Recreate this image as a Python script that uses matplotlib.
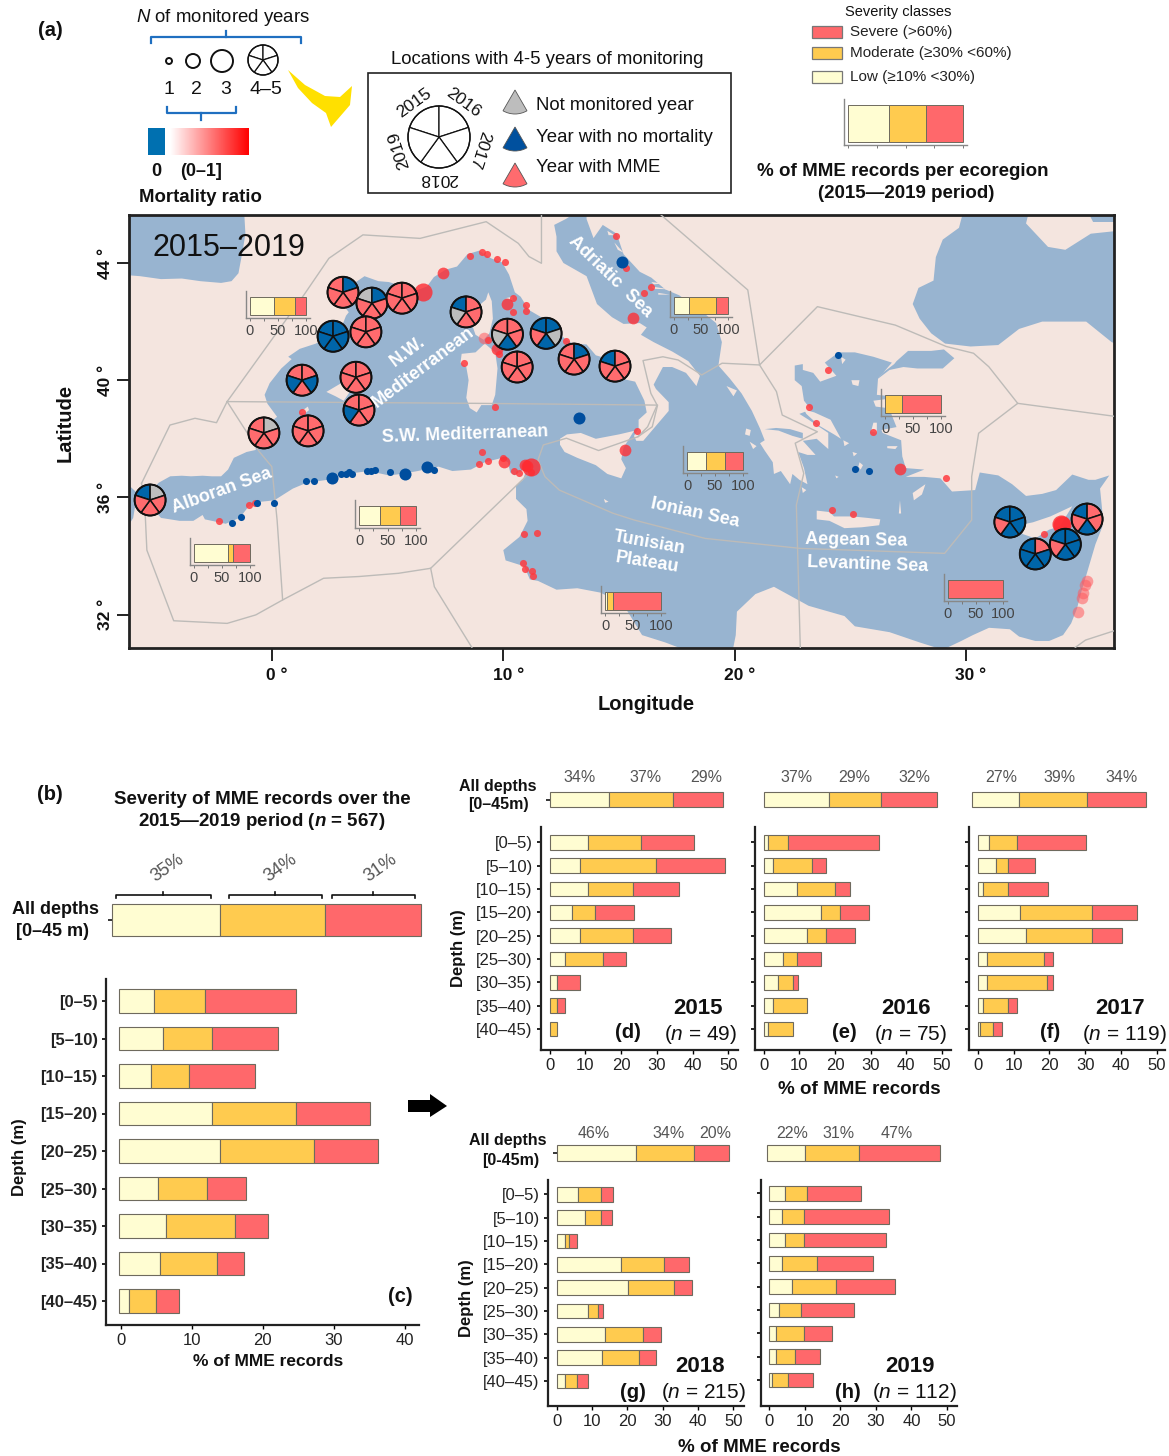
import numpy as np
import matplotlib
matplotlib.use('Agg')
import matplotlib.pyplot as plt
from matplotlib.patches import Polygon, Wedge, Circle, Rectangle
from matplotlib.colors import LinearSegmentedColormap

plt.rcParams['font.family'] = ['Liberation Sans', 'DejaVu Sans']
plt.rcParams['mathtext.fontset'] = 'custom'
plt.rcParams['mathtext.rm'] = 'Liberation Sans'
plt.rcParams['mathtext.it'] = 'Liberation Sans:italic'
plt.rcParams['mathtext.bf'] = 'Liberation Sans:bold'
plt.rcParams['mathtext.bfit'] = 'Liberation Sans:italic:bold'

W, H = 1169, 1456
LOW, MOD, SEV = '#FFFDD2', '#FFCB4F', '#FF686B'
SEA, LAND = '#98B4D0', '#F4E5DF'
EDGE = '#6E6A5E'

# ---- depth data
depths = ['[0–5)', '[5–10)', '[10–15)', '[15–20)', '[20–25)', '[25–30)', '[30–35)', '[35–40)', '[40–45)']

low_all = [4.7, 5.9, 4.3, 12.8, 14.0, 5.2, 6.4, 5.5, 1.1]
mod_all = [7.2, 6.9, 5.3, 11.9, 13.2, 7.0, 9.7, 8.0, 3.9]
sev_all = [12.8, 9.4, 9.3, 10.4, 9.0, 5.5, 4.6, 3.8, 3.2]

low_2015 = [10.7, 8.5, 10.7, 6.4, 8.5, 4.3, 2.2, 0, 0]
mod_2015 = [14.8, 21.3, 12.6, 6.4, 14.8, 10.6, 0, 2.2, 2.2]
sev_2015 = [15.0, 19.2, 12.8, 10.7, 10.8, 6.5, 6.4, 2.2, 0]

low_2016 = [1.3, 2.7, 9.4, 16.1, 12.1, 5.4, 4.0, 2.7, 1.3]
mod_2016 = [5.4, 10.7, 10.7, 5.4, 5.4, 4.0, 4.1, 9.4, 6.8]
sev_2016 = [25.6, 4.1, 4.1, 8.1, 8.1, 6.7, 1.4, 0, 0]

low_2017 = [3.2, 5.0, 1.5, 11.9, 13.4, 2.6, 2.6, 1.5, 0.7]
mod_2017 = [7.6, 3.4, 6.9, 20.1, 18.6, 15.8, 16.7, 6.9, 3.4]
sev_2017 = [19.4, 7.6, 11.1, 12.5, 8.2, 2.6, 1.7, 2.6, 2.6]

low_2018 = [6.1, 7.9, 2.4, 18.3, 20.1, 8.9, 13.6, 12.7, 2.4]
mod_2018 = [6.5, 4.7, 1.0, 12.1, 13.1, 2.9, 10.7, 10.7, 3.3]
sev_2018 = [3.2, 3.0, 2.3, 7.1, 5.1, 1.3, 5.1, 4.6, 3.3]

low_2019 = [4.5, 3.7, 4.5, 3.7, 6.3, 2.7, 1.8, 1.8, 0.9]
mod_2019 = [6.2, 6.1, 5.3, 9.6, 12.4, 6.3, 8.0, 5.3, 4.4]
sev_2019 = [15.0, 23.9, 22.9, 16.0, 16.8, 14.9, 7.9, 7.1, 7.1]

# all depths shares: low, moderate, severe
share_total = [35, 34, 31]
share_2015 = [34.6, 36.7, 28.7]
share_2016 = [38, 30, 32]
share_2017 = [27, 39, 34]
share_2018 = [46, 34, 20]
share_2019 = [22, 31, 47]

# severity shares per ecoregion
eco_nw = [43, 37, 20]
eco_alboran = [61, 8, 31]
eco_sw = [36, 36, 28]
eco_tunisian = [4, 10, 86]
eco_adriatic = [27, 51, 22]
eco_ionian = [34, 33, 33]
eco_aegean = [0, 31, 69]
eco_levantine = [0, 0, 100]
eco_legend = [36, 32, 32]

# ---- pies, one letter per year 2015..2019 (M = MME, B = no mortality, G = not monitored)
pie_lon = [3.07, 4.32, 5.62, 2.64, 4.06, 8.39, 10.18, 11.85, 10.6, 13.06, 14.83, 1.3, 3.63, 3.76, -0.35, 1.56, -5.27,
           31.9, 33.0, 34.3, 35.24]
pie_lat = [43.0, 42.63, 42.8, 41.5, 41.65, 42.33, 41.57, 41.6, 40.45, 40.72, 40.48, 40.0, 40.1, 38.98, 38.2, 38.27, 35.91,
           35.16, 34.07, 34.4, 35.26]
pie_status = ['MBMMM', 'GBMMM', 'MMMMM', 'BBBBB', 'MMMMM', 'BMMMG', 'MMMBG', 'BBGBM', 'MMMMM', 'MBMMM', 'BMMMM',
              'MMBMB', 'MMMMM', 'MMMMB', 'MGMMM', 'MMMMM', 'BGMMM', 'BBBBM', 'BMBBB', 'BBBBM', 'BMMBM']

# ---- mortality points
red_lon = [8.56, 9.1, 9.3, 9.73, 10.07, 10.41, 10.41, 11.0, 11.0, 9.33, 9.8, 8.3, 9.64, 12.7, 1.3, 15.76, 14.89, 15.31,
           16.1, 16.39, 9.06, 8.95, 9.33, 9.98, 10.45, 10.7, 11.2, 10.9, 11.45, 10.85, 10.92, 11.22, 11.3, -0.98, -0.73,
           -2.28, 24.03, 23.22, 23.5, 26.0, 29.15, 24.19, 25.1, 33.37]
red_lat = [44.24, 44.39, 44.31, 44.14, 44.05, 42.79, 42.33, 42.57, 42.36, 41.37, 40.9, 40.6, 39.1, 41.35, 38.93, 38.27,
           44.92, 43.84, 42.97, 43.17, 37.55, 37.13, 37.25, 37.33, 36.89, 36.82, 36.86, 34.74, 34.8, 33.75, 33.56, 33.49,
           33.32, 35.73, 35.8, 35.18, 40.34, 39.1, 38.53, 38.24, 36.65, 35.56, 35.42, 34.74]
red_big_lon = [7.4, 10.18, 9.72, 15.28, 15.59, 10.03, 10.92, 11.03, 27.16]
red_big_lat = [43.67, 42.59, 41.08, 37.62, 42.13, 37.21, 37.12, 37.07, 36.98]
red_huge_lon = [6.52, 11.19, 34.14, 34.1]
red_huge_lat = [43.01, 37.05, 35.06, 35.1]
pale_lon = [9.18, 35.25, 35.17, 35.07, 35.03, 34.85]
pale_lat = [41.45, 33.15, 33.0, 32.73, 32.56, 32.1]

blue_lon = [0.07, -0.64, -1.35, -1.74, 1.47, 1.81, 3.0, 3.19, 3.31, 3.47, 4.12, 4.28, 4.45, 5.1, 7.02, 24.46, 25.2, 25.81]
blue_lat = [35.82, 35.8, 35.33, 35.11, 36.56, 36.56, 36.81, 36.8, 36.87, 36.81, 36.91, 36.91, 36.94, 36.85, 36.94, 40.86,
            36.96, 36.89]
blue_big_lon = [15.15, 13.27, 2.59, 5.75, 6.68]
blue_big_lat = [44.05, 38.7, 36.65, 36.81, 37.04]

# ---- base map, lon / lat
mainland = [
    (-6.3, 36.5), (-5.9, 36.2), (-5.6, 36.0), (-5.35, 36.15), (-4.9, 36.5), (-4.4, 36.72), (-3.9, 36.74), (-3.5, 36.72),
    (-3.0, 36.74), (-2.6, 36.72), (-2.2, 36.72), (-1.9, 36.95), (-1.65, 37.35), (-1.1, 37.55), (-0.7, 37.62), (-0.75, 37.9),
    (-0.5, 38.2), (-0.1, 38.55), (0.22, 38.75), (-0.2, 39.2), (-0.32, 39.5), (-0.1, 39.9), (0.4, 40.4), (0.85, 40.72),
    (0.7, 40.8), (1.2, 41.07), (1.9, 41.25), (2.3, 41.45), (3.0, 41.8), (3.2, 42.2), (3.32, 42.32), (3.05, 42.6),
    (3.05, 43.05), (3.5, 43.28), (4.0, 43.55), (4.6, 43.38), (5.05, 43.35), (5.35, 43.28), (5.7, 43.15), (6.2, 43.05),
    (6.7, 43.2), (7.0, 43.52), (7.5, 43.77), (8.0, 43.88), (8.45, 44.3), (8.95, 44.42), (9.5, 44.15), (9.95, 44.02),
    (10.25, 43.6), (10.5, 43.0), (10.75, 42.85), (11.1, 42.4), (11.75, 42.1), (12.25, 41.75), (12.65, 41.42), (13.0, 41.25),
    (13.6, 41.22), (14.0, 40.85), (14.3, 40.78), (14.35, 40.6), (14.75, 40.65), (15.0, 40.3), (15.3, 40.02), (15.7, 39.95),
    (16.1, 39.3), (16.2, 38.9), (15.85, 38.65), (15.85, 38.35), (15.65, 38.1), (15.75, 37.93), (16.05, 37.93), (16.5, 38.35),
    (17.15, 38.95), (17.15, 39.25), (16.6, 39.7), (16.5, 39.85), (16.9, 40.45), (17.3, 40.45), (17.9, 40.25), (18.35, 39.8),
    (18.5, 40.15), (18.0, 40.65), (17.3, 40.98), (16.5, 41.3), (15.95, 41.55), (16.2, 41.8), (15.9, 41.95), (15.2, 41.92),
    (14.7, 42.15), (14.05, 42.6), (13.6, 43.55), (12.6, 44.0), (12.3, 44.4), (12.3, 44.9), (12.2, 45.3), (12.7, 45.5),
    (13.1, 45.7), (13.6, 45.75), (13.6, 45.5), (13.9, 44.85), (14.3, 45.3), (14.9, 45.0), (15.2, 44.3), (15.9, 43.7),
    (16.4, 43.5), (17.0, 43.1), (17.6, 42.9), (18.5, 42.4), (19.2, 41.95), (19.45, 41.3), (19.3, 40.5), (19.8, 40.05),
    (20.3, 39.55), (20.75, 38.95), (21.1, 38.35), (21.3, 37.95), (21.1, 37.85), (21.3, 37.6), (21.65, 37.2), (21.7, 36.8),
    (22.0, 36.9), (22.4, 36.45), (22.5, 36.8), (22.8, 36.6), (23.15, 36.45), (23.0, 37.0), (22.75, 37.55), (23.15, 37.45),
    (23.5, 37.45), (23.1, 37.8), (22.95, 37.93), (23.55, 38.0), (24.05, 37.65), (24.05, 38.2), (23.2, 38.65), (22.8, 38.85),
    (23.3, 39.0), (23.0, 39.3), (22.9, 39.8), (22.6, 40.0), (22.6, 40.5), (22.95, 40.55), (22.95, 40.35), (23.4, 40.25),
    (23.7, 39.95), (24.4, 40.15), (23.9, 40.6), (24.5, 40.95), (25.2, 40.95), (26.0, 40.8), (26.8, 40.6), (26.2, 40.05),
    (26.15, 39.5), (26.8, 39.45), (26.7, 39.0), (27.0, 38.4), (26.35, 38.3), (26.4, 38.2), (27.2, 37.95), (27.25, 37.4),
    (27.4, 37.0), (28.2, 36.95), (27.4, 36.7), (28.2, 36.7), (28.9, 36.65), (29.4, 36.2), (30.4, 36.25), (30.6, 36.85),
    (31.4, 36.75), (32.0, 36.45), (32.6, 36.05), (33.3, 36.12), (33.9, 36.25), (34.6, 36.78), (35.3, 36.6), (35.6, 36.6),
    (36.2, 36.75), (35.8, 36.3), (35.9, 35.5), (35.9, 35.0), (35.6, 34.4), (35.0, 32.8), (34.8, 32.2), (34.55, 31.7),
    (34.2, 31.3), (33.6, 31.1), (33.0, 31.1), (32.3, 31.25), (31.9, 31.5), (31.0, 31.55), (30.3, 31.3), (29.8, 31.1),
    (29.0, 30.8), (28.0, 31.05), (26.7, 31.4), (25.2, 31.6), (24.75, 31.95), (23.2, 32.3), (21.7, 32.95), (20.9, 32.7),
    (20.1, 32.1), (20.05, 31.3), (19.9, 30.7), (18.0, 30.75), (17.0, 31.05), (16.0, 31.3), (15.3, 32.2), (15.1, 32.4),
    (14.2, 32.75), (13.2, 32.9), (12.3, 32.85), (11.5, 33.15), (11.15, 33.2), (10.9, 33.65), (10.1, 33.85), (10.0, 34.2),
    (10.7, 34.65), (11.05, 35.2), (11.0, 35.6), (10.55, 35.95), (10.55, 36.4), (10.85, 36.6), (11.05, 37.05), (10.5, 36.75),
    (10.3, 36.85), (10.2, 37.2), (9.85, 37.33), (9.2, 37.2), (8.6, 36.95), (7.8, 36.9), (7.2, 37.05), (6.3, 36.9), (5.6, 36.8),
    (5.05, 36.75), (4.2, 36.9), (3.2, 36.8), (2.9, 36.8), (2.4, 36.6), (1.5, 36.5), (0.9, 36.3), (0.1, 35.9), (-0.5, 35.85),
    (-1.0, 35.7), (-1.4, 35.3), (-2.0, 35.1), (-2.9, 35.25), (-3.0, 35.4), (-3.4, 35.2), (-4.0, 35.2), (-4.8, 35.3),
    (-5.3, 35.75), (-5.4, 35.9), (-5.9, 35.8), (-6.0, 35.3), (-6.4, 34.8), (-6.5, 30), (38, 30), (38, 47), (-6.5, 47),
]
biscay = [(-6.5, 43.6), (-5.7, 43.55), (-4.8, 43.45), (-3.9, 43.47), (-3.1, 43.38), (-2.2, 43.32), (-1.75, 43.38),
          (-1.45, 43.65), (-1.25, 44.5), (-1.15, 45.0), (-1.2, 45.7), (-1.2, 46.5), (-6.5, 46.5)]
black_sea = [(29.9, 45.8), (29.7, 45.2), (29.0, 44.8), (28.7, 44.2), (28.6, 43.4), (27.95, 43.15), (27.7, 42.6), (28.0, 42.1),
             (28.5, 41.6), (29.1, 41.25), (30.2, 41.15), (31.4, 41.2), (32.3, 41.75), (33.3, 42.0), (34.9, 42.0), (35.2, 42.0),
             (36.3, 41.3), (37.0, 41.1), (38, 41.05), (38, 46.5), (29.9, 46.5)]
marmara = [(27.0, 40.65), (27.5, 41.0), (28.5, 41.0), (29.05, 41.05), (29.5, 40.75), (29.0, 40.4), (27.9, 40.4), (27.3, 40.45),
           (26.7, 40.35), (26.2, 40.05), (26.4, 40.25), (26.9, 40.55)]
corinth = [(21.3, 38.33), (21.8, 38.37), (22.4, 38.33), (22.95, 38.2), (22.95, 38.0), (22.5, 38.1), (21.9, 38.28)]
crimea = [(32.6, 45.35), (33.55, 44.55), (34.3, 44.45), (35.4, 45.0), (36.6, 45.1), (38, 44.9), (38, 45.2), (36.6, 45.4),
          (35.5, 45.4), (35.1, 46.0), (33.5, 46.2), (32.8, 46.0)]
islands = [
    [(9.35, 43.0), (9.5, 42.7), (9.55, 42.1), (9.4, 41.6), (9.15, 41.38), (8.8, 41.55), (8.6, 42.0), (8.65, 42.35), (9.25, 42.75)],
    [(8.2, 40.9), (8.8, 40.95), (9.2, 41.25), (9.65, 40.95), (9.75, 40.4), (9.65, 39.5), (9.5, 39.15), (9.05, 39.15), (8.85, 38.9),
     (8.55, 39.05), (8.4, 39.4), (8.5, 40.0), (8.4, 40.45), (8.15, 40.6)],
    [(12.45, 38.0), (12.75, 38.15), (13.35, 38.2), (14.0, 38.0), (15.0, 38.15), (15.65, 38.27), (15.2, 37.7), (15.1, 37.3),
     (15.3, 37.0), (15.1, 36.65), (14.5, 36.8), (14.0, 37.1), (13.2, 37.35), (12.65, 37.55), (12.45, 37.8)],
    [(2.35, 39.6), (3.1, 39.95), (3.45, 39.7), (3.1, 39.3), (2.75, 39.45)],
    [(3.8, 40.05), (4.3, 40.0), (4.25, 39.85), (3.85, 39.95)],
    [(1.2, 38.9), (1.55, 39.1), (1.6, 38.98), (1.4, 38.85)],
    [(10.1, 42.8), (10.4, 42.85), (10.4, 42.72)],
    [(23.55, 35.55), (24.1, 35.5), (24.3, 35.35), (25.1, 35.35), (25.75, 35.3), (26.3, 35.25), (26.25, 35.05), (25.5, 34.98),
     (24.75, 34.95), (24.1, 35.2), (23.55, 35.25)],
    [(32.3, 35.05), (32.9, 35.15), (33.65, 35.35), (34.6, 35.7), (34.05, 35.0), (33.6, 34.9), (33.0, 34.6), (32.45, 34.75)],
    [(27.7, 36.15), (28.25, 36.45), (28.1, 36.1), (27.75, 35.9)],
    [(27.15, 35.9), (27.2, 35.45), (27.1, 35.45)],
    [(26.0, 39.3), (26.5, 39.35), (26.6, 39.05), (26.1, 39.1)],
    [(26.0, 38.55), (26.15, 38.55), (26.15, 38.2), (25.9, 38.25)],
    [(26.6, 37.75), (27.05, 37.75), (26.95, 37.65), (26.6, 37.68)],
    [(24.6, 40.8), (24.8, 40.7), (24.65, 40.55)],
    [(25.05, 40.0), (25.4, 40.0), (25.35, 39.8), (25.1, 39.85)],
    [(23.0, 39.0), (23.45, 38.9), (24.15, 38.65), (24.6, 38.0), (24.3, 38.15), (23.65, 38.45), (23.1, 38.85)],
    [(25.4, 37.2), (25.55, 37.1), (25.45, 36.95), (25.35, 37.05)],
    [(24.7, 37.95), (24.95, 37.85), (24.75, 37.75)],
    [(24.35, 36.75), (24.5, 36.7), (24.4, 36.65)],
    [(25.1, 37.55), (25.3, 37.5), (25.15, 37.4)],
    [(20.5, 38.35), (20.7, 38.3), (20.65, 38.1), (20.45, 38.15)],
    [(20.65, 37.9), (20.95, 37.75), (20.8, 37.65)],
    [(19.65, 39.8), (20.1, 39.65), (19.95, 39.45)],
    [(14.5, 45.1), (14.8, 44.95), (14.55, 44.95)],
    [(14.8, 44.7), (15.2, 44.35), (14.95, 44.45)],
    [(15.0, 44.1), (15.3, 43.9), (15.1, 43.95)],
    [(16.4, 43.35), (16.9, 43.3), (16.5, 43.27)],
    [(16.4, 43.2), (17.2, 43.1), (16.5, 43.12)],
    [(16.7, 42.98), (17.2, 42.92), (16.7, 42.92)],
    [(22.9, 36.35), (23.1, 36.25), (22.95, 36.15)],
    [(14.35, 35.95), (14.55, 35.85), (14.4, 35.82)],
]
eco_lines = [
    [(-5.64, 36.48), (-4.41, 38.47), (-3.33, 38.7), (-2.4, 38.55), (-1.94, 39.27), (1.38, 42.91), (2.46, 44.16), (3.93, 44.96),
     (6.4, 44.84), (9.26, 45.41), (10.65, 44.67), (11.11, 44.22), (11.65, 43.99), (11.65, 45.64)],
    [(-5.64, 36.48), (-5.49, 35.57), (-5.41, 34.2), (-4.25, 31.79), (-1.94, 31.7), (-0.7, 31.99), (0.46, 32.5), (0.22, 35.23),
     (-0.01, 37.05), (-0.55, 37.56), (-1.94, 39.27)],
    [(-1.94, 39.27), (8.87, 39.21), (16.67, 39.15), (16.44, 38.41), (15.82, 38.07), (14.12, 37.6), (12.73, 38.02), (11.73, 37.79),
     (11.5, 37.28), (11.8, 36.71), (12.42, 36.25), (14.74, 35.46), (15.65, 35.23), (18.73, 34.6), (22.84, 34.26), (29.08, 34.09),
     (30.25, 35.23), (30.25, 36.71), (30.55, 38.19), (32.24, 39.21), (36.5, 38.76)],
    [(32.24, 39.21), (30.99, 40.46), (30.33, 40.92), (29.15, 41.15), (26.95, 41.88), (23.58, 42.51), (21.08, 40.52), (19.46, 40.58),
     (18.58, 40.18), (17.56, 40.69), (16.9, 40.8), (16.04, 40.67), (16.38, 39.55), (16.65, 39.15), (16.24, 38.41), (15.82, 38.07)],
    [(16.82, 45.64), (20.57, 43.08), (21.08, 40.52), (21.81, 39.61), (22.06, 38.81), (23.58, 38.24), (22.62, 37.85), (22.99, 36.82),
     (22.67, 35.74), (22.84, 30.88)],
    [(11.11, 36.82), (6.86, 33.58), (5.47, 33.41), (3.77, 33.3), (2.23, 33.24), (0.46, 32.5)],
    [(6.86, 33.58), (7.02, 32.95), (8.64, 30.88)],
    [(34.73, 30.88), (35.17, 31.13), (36.5, 31.47)],
]

fig = plt.figure(figsize=(W / 100, H / 100), dpi=100)


def px_axes(x0, y0, x1, y1):
    return fig.add_axes([x0 / W, 1 - y1 / H, (x1 - x0) / W, (y1 - y0) / H])


# ---- map
lon0, lat0 = 272.0, 263.0
mx = px_axes(129, 215, 1114, 648)
mx.set_xlim((129 - lon0) / 23.13, (1114 - lon0) / 23.13)
mx.set_ylim(44 - (648 - lat0) / 29.3, 44 - (215 - lat0) / 29.3)
mx.set_facecolor(SEA)
mx.add_patch(Polygon(mainland, closed=True, fc=LAND, ec='none', zorder=1))
for poly in [biscay, black_sea, marmara, corinth]:
    mx.add_patch(Polygon(poly, closed=True, fc=SEA, ec='none', zorder=2))
mx.add_patch(Polygon(crimea, closed=True, fc=LAND, ec='none', zorder=2))
for poly in islands:
    mx.add_patch(Polygon(poly, closed=True, fc=LAND, ec='none', zorder=2))
for line in eco_lines:
    mx.plot([p[0] for p in line], [p[1] for p in line], color='#BDBBB8', lw=1.0, zorder=3)

mx.scatter(pale_lon, pale_lat, s=70, color='#FF5A5F', alpha=0.55, lw=0, zorder=4)
mx.scatter(red_lon, red_lat, s=26, color='#FF3B3F', alpha=0.85, lw=0, zorder=4)
mx.scatter(red_big_lon, red_big_lat, s=72, color='#FF2F35', alpha=0.8, lw=0, zorder=4)
mx.scatter(red_huge_lon, red_huge_lat, s=170, color='#FF2A30', alpha=0.8, lw=0, zorder=4)
mx.scatter(blue_lon, blue_lat, s=26, color='#004E9E', lw=0, zorder=4)
mx.scatter(blue_big_lon, blue_big_lat, s=75, color='#004E9E', lw=0, zorder=4)

mx.set_xticks([0, 10, 20, 30])
mx.set_yticks([32, 36, 40, 44])
mx.set_xticklabels([])
mx.set_yticklabels([])
mx.tick_params(length=9, width=1.4, color='#222222')
for s in mx.spines.values():
    s.set_linewidth(2)
    s.set_color('#222222')


# ---- small severity bars on the map
def eco_bar(x0, y0, x1, y1, shares, labels=True):
    sc = (x1 - x0) / 100.0
    ax = px_axes(x0 - 4, y0 - 6, x1 + 4, y1 + 3)
    ax.patch.set_alpha(0)
    ax.set_xlim(-4 / sc, 100 + 4 / sc)
    ax.set_ylim(-3 / (y1 - y0) - 0.5, 6 / (y1 - y0) + 0.5)
    left = 0
    for val, col in zip(shares, [LOW, MOD, SEV]):
        if val > 0:
            ax.barh(0, val, left=left, height=1, color=col, edgecolor=EDGE, lw=0.7)
        left += val
    ax.set_yticks([])
    ax.set_xticks([0, 25, 50, 75, 100])
    ax.set_xticklabels(['0', '', '50', '', '100'] if labels else [])
    ax.tick_params(axis='x', length=2.5, width=0.7, color='#777777', labelcolor='#444444', labelsize=10.5, pad=1.5)
    for k in ['top', 'right']:
        ax.spines[k].set_visible(False)
    for k in ['left', 'bottom']:
        ax.spines[k].set_color('#888888')
        ax.spines[k].set_linewidth(1.0)


eco_bar(250, 297, 306, 315, eco_nw)
eco_bar(194, 544, 250, 562, eco_alboran)
eco_bar(359, 506, 416, 525, eco_sw)
eco_bar(605, 592, 661, 610, eco_tunisian)
eco_bar(674, 297, 728, 314, eco_adriatic)
eco_bar(687, 452, 743, 470, eco_ionian)
eco_bar(885, 395, 941, 413, eco_aegean)
eco_bar(948, 580, 1003, 598, eco_levantine)
eco_bar(848, 105, 963, 142, eco_legend, labels=False)


# ---- depth panels
def depth_panel(left, right, top, bottom, x0, x_end, v_end, y_first, row, low, mod, sev, labels=False, start=0.0, bold=False):
    sc = (x_end - x0) / float(v_end)
    ax = px_axes(left, top, right, bottom)
    ax.patch.set_alpha(0)
    ax.set_xlim((left - x0) / sc, (right - x0) / sc)
    ax.set_ylim((bottom - y_first) / row, (top - y_first) / row)
    y = np.arange(len(depths))
    lo, mo, se = np.array(low), np.array(mod), np.array(sev)
    # the first segment starts a little left of the zero tick in the original
    ax.barh(y[lo > 0], lo[lo > 0] - start, left=start, height=0.62, color=LOW, edgecolor=EDGE, lw=0.8)
    ax.barh(y[mo > 0], mo[mo > 0], left=lo[mo > 0], height=0.62, color=MOD, edgecolor=EDGE, lw=0.8)
    ax.barh(y[se > 0], se[se > 0], left=(lo + mo)[se > 0], height=0.62, color=SEV, edgecolor=EDGE, lw=0.8)
    ax.set_yticks(y)
    ax.set_yticklabels(depths if labels else [], fontweight='bold' if bold else 'normal')
    ax.set_xticks(np.arange(0, v_end + 1, 10))
    ax.tick_params(axis='y', length=3, width=1.2, labelsize=12, pad=3, labelcolor='#222222')
    ax.tick_params(axis='x', length=3, width=1.0, labelsize=12, pad=3, labelcolor='#222222')
    for k in ['top', 'right']:
        ax.spines[k].set_visible(False)
    for k in ['left', 'bottom']:
        ax.spines[k].set_linewidth(1.6)
        ax.spines[k].set_color('#222222')
    return ax


def all_bar(x0, x1, y0, y1, shares, tick=False):
    ax = px_axes(x0, y0, x1, y1)
    ax.patch.set_alpha(0)
    ax.set_xlim(0, sum(shares))
    ax.set_ylim(-0.5, 0.5)
    left = 0
    for val, col in zip(shares, [LOW, MOD, SEV]):
        ax.barh(0, val, left=left, height=1, color=col, edgecolor=EDGE, lw=0.8, clip_on=False)
        left += val
    ax.set_xticks([])
    ax.set_yticks([0] if tick else [])
    ax.set_yticklabels([''] if tick else [])
    ax.tick_params(axis='y', length=3, width=1.1)
    for s in ax.spines.values():
        s.set_visible(False)


depth_panel(106, 419, 979, 1325, 120.7, 404.7, 40, 1001, 37.5, low_all, mod_all, sev_all, labels=True, start=-0.25, bold=True)
all_bar(112, 421, 904, 936, share_total, tick=True)

depth_panel(541, 738, 827, 1050, 549.5, 728.3, 50, 842.3, 23.33, low_2015, mod_2015, sev_2015, labels=True)
depth_panel(755, 951, 827, 1050, 763.8, 942, 50, 842.3, 23.33, low_2016, mod_2016, sev_2016)
depth_panel(969, 1165, 827, 1050, 978, 1156.5, 50, 842.3, 23.33, low_2017, mod_2017, sev_2017)
all_bar(549.5, 722.8, 792, 807, share_2015, tick=True)
all_bar(763.5, 937, 792, 807, share_2016)
all_bar(972, 1146, 792, 807, share_2017)

depth_panel(548, 744, 1180, 1406, 556.7, 733.3, 50, 1194.3, 23.33, low_2018, mod_2018, sev_2018, labels=True)
depth_panel(761, 957, 1180, 1406, 769.3, 947, 50, 1193.3, 23.33, low_2019, mod_2019, sev_2019)
all_bar(556.7, 728.7, 1145, 1161, share_2018, tick=True)
all_bar(767.3, 940, 1145, 1161, share_2019)

# ---- overlay in picture pixels, for legend parts, text and pies
ov = fig.add_axes([0, 0, 1, 1], zorder=20)
ov.set_xlim(0, W)
ov.set_ylim(H, 0)
ov.axis('off')
ov.patch.set_alpha(0)


def txt(x, y, s, size=12, weight='normal', color='#111111', rot=0, ha='center', va='center'):
    ov.text(x, y, s, fontsize=size, fontweight=weight, color=color, rotation=rot, ha=ha, va=va,
            rotation_mode='anchor')


status_col = {'M': '#FF6B6E', 'B': '#0065A9', 'G': '#BDBDBD', 'W': 'white'}


def pie(cx, cy, r, status, lw=1.1, outer=1.4):
    for i, st in enumerate(status):
        a = -162 + 72 * i
        ov.add_patch(Wedge((cx, cy), r, a, a + 72, fc=status_col[st], ec='#111111', lw=lw, zorder=3))
    ov.add_patch(Circle((cx, cy), r, fc='none', ec='#111111', lw=outer, zorder=3))


fig.canvas.draw()
to_disp = mx.transData
to_ov = ov.transData.inverted()
for lon, lat, st in zip(pie_lon, pie_lat, pie_status):
    px, py = to_ov.transform(to_disp.transform((lon, lat)))
    pie(px, py, 15.5, st)

# sea names
for x, y, s, rot in [(610, 277, 'Adriatic  Sea', -44), (408, 352, 'N.W.', 37), (423, 367, 'Mediterranean', 37),
                     (465, 435, 'S.W. Mediterranean', 2), (222, 491, 'Alboran Sea', 20), (695, 513, 'Ionian Sea', -12),
                     (649, 543, 'Tunisian', -10), (647, 563, 'Plateau', -9), (856, 540, 'Aegean Sea', -1),
                     (868, 565, 'Levantine Sea', -2)]:
    txt(x, y, s, size=13, weight='bold', color='white', rot=rot)

txt(229, 248, '2015–2019', size=22)

# map axis text
for lat, lab in zip([44, 40, 36, 32], ['44 °', '40 °', '36 °', '32 °']):
    px, py = to_ov.transform(to_disp.transform((0, lat)))
    txt(105, py, lab, size=12.5, weight='bold', rot=90)
for lon, lab in zip([0, 10, 20, 30], ['0 °', '10 °', '20 °', '30 °']):
    px, py = to_ov.transform(to_disp.transform((lon, 32)))
    txt(px + 5, 676, lab, size=12.5, weight='bold')
txt(65, 423, 'Latitude', size=14.5, weight='bold', rot=90)
txt(646, 704, 'Longitude', size=14.5, weight='bold')

# (a) legend, left part
txt(50, 30, '(a)', size=14.5, weight='bold')
txt(223, 18, r'$\mathit{N}$ of monitored years', size=13.4)
blue = '#1F6FC0'
ov.plot([151, 151, 301, 301], [43, 37, 37, 43], color=blue, lw=1.6)
ov.plot([226, 226], [31, 37], color=blue, lw=1.6)
for x, r in [(169, 3), (193, 7), (222, 11)]:
    ov.add_patch(Circle((x, 61), r, fc='white', ec='#111111', lw=1.4))
pie(263, 60, 15, 'WWWWW', lw=0.9, outer=1.0)
for x, s in [(169, '1'), (196, '2'), (226, '3'), (266, '4–5')]:
    txt(x, 90, s, size=14)
ov.plot([167, 167, 236, 236], [107, 113, 113, 107], color=blue, lw=1.6)
ov.plot([201, 201], [113, 120], color=blue, lw=1.6)
ov.add_patch(Rectangle((148, 128), 17, 27, fc='#0070B0', ec='none'))
white_red = LinearSegmentedColormap.from_list('wr', ['#FFFFFF', '#FF0000'])
ov.imshow(np.linspace(0, 1, 100).reshape(1, -1), extent=(170, 249, 155, 128), cmap=white_red, aspect='auto', zorder=2)
ov.set_xlim(0, W)
ov.set_ylim(H, 0)
txt(156, 171, '0', size=13, weight='bold')
txt(201, 171, '(0–1]', size=13, weight='bold')
txt(200, 197, 'Mortality ratio', size=13.4, weight='bold')

# yellow arrow
ov.add_patch(Polygon([(288, 70), (305, 85), (325, 96), (340, 97), (352, 86), (350, 105), (331, 127), (326, 113), (312, 103),
                      (298, 88)], closed=True, fc='#FFE000', ec='none'))

# locations box
txt(547, 59, 'Locations with 4-5 years of monitoring', size=13.4)
ov.add_patch(Rectangle((368, 73), 363, 120, fc='white', ec='#222222', lw=1.2))
pie(439, 137, 31, 'WWWWW', lw=0.9, outer=1.0)
for i, yr in enumerate(['2015', '2016', '2017', '2018', '2019']):
    th = np.deg2rad(-36 + 72 * i)
    txt(439 + 42 * np.sin(th), 137 - 42 * np.cos(th), yr, size=12.5, rot=-np.rad2deg(th))
for y, y_text, col, s in [(90, 106, '#BDBDBD', 'Not monitored year'), (127, 137, '#00509E', 'Year with no mortality'),
                          (163, 168, '#FF6B6E', 'Year with MME')]:
    ov.add_patch(Wedge((515, y), 24, 60, 120, fc=col, ec='#555555', lw=0.6, zorder=3))
    txt(536, y_text, s, size=13.4, ha='left')

# severity legend
txt(898, 12, 'Severity classes', size=10.5)
for y, col, s in [(26, SEV, 'Severe (>60%)'), (47, MOD, 'Moderate (≥30% <60%)'), (71, LOW, 'Low (≥10% <30%)')]:
    ov.add_patch(Rectangle((812, y), 30, 12, fc=col, ec='#777777', lw=0.9))
    txt(850, y + 6, s, size=11, ha='left', color='#222222')
txt(903, 171, '% of MME records per ecoregion', size=13.5, weight='bold')
txt(906, 194, '(2015—2019 period)', size=13.5, weight='bold')

# (b), (c)
txt(50, 794, '(b)', size=14.5, weight='bold')
txt(262, 799, 'Severity of MME records over the', size=13.5, weight='bold')
txt(262, 821, r'2015—2019 period ($\mathbfit{n}$ = 567)', size=13.5, weight='bold')
for x0, x1, xm, xt, s in [(116, 211, 163, 168, '35%'), (229, 322, 275, 281, '34%'), (332, 415, 373, 381, '31%')]:
    ov.plot([x0, x0, x1, x1], [898, 895, 895, 898], color='#111111', lw=1.2)
    ov.plot([xm, xm], [892, 895], color='#111111', lw=1.2)
    txt(xt, 868, s, size=13, rot=35, color='#555555')
txt(56, 909, 'All depths', size=13, weight='bold')
txt(53, 931, '[0–45 m)', size=13, weight='bold')
txt(20, 1157, 'Depth (m)', size=12, weight='bold', rot=90)
txt(268, 1362, '% of MME records', size=12.5, weight='bold')
txt(400, 1297, '(c)', size=14.5, weight='bold')
ov.add_patch(Polygon([(408, 1100), (430, 1100), (430, 1094), (447, 1106), (430, 1117), (430, 1112), (408, 1112)], closed=True,
                     fc='black', ec='none'))

# (d) (e) (f)
for x, s in [(580, '34%'), (646, '37%'), (706, '29%'), (797, '37%'), (854, '29%'), (914, '32%'), (1001, '27%'), (1060, '39%'),
             (1122, '34%')]:
    txt(x, 778, s, size=11.5, color='#555555')
txt(498, 786, 'All depths', size=11.5, weight='bold')
txt(498, 805, '[0–45m)', size=11.5, weight='bold')
txt(459, 948, 'Depth (m)', size=12, weight='bold', rot=90)
txt(859, 1089, '% of MME records', size=13.5, weight='bold')
for xy, yr, xl, lab, xn, n in [(698, '2015', 628, '(d)', 701, 49), (906, '2016', 844, '(e)', 911, 75),
                               (1120, '2017', 1050, '(f)', 1124, 119)]:
    txt(xy, 1008, yr, size=16, weight='bold')
    txt(xl, 1033, lab, size=14.5, weight='bold')
    txt(xn, 1035, r'($\mathit{n}$ = %d)' % n, size=15)

# (g) (h)
for x, s in [(594, '46%'), (669, '34%'), (715, '20%'), (792, '22%'), (839, '31%'), (897, '47%')]:
    txt(x, 1133, s, size=11.5, color='#555555')
txt(508, 1140, 'All depths', size=11.5, weight='bold')
txt(511, 1160, '[0-45m)', size=11.5, weight='bold')
txt(466, 1298, 'Depth (m)', size=12, weight='bold', rot=90)
txt(759, 1447, '% of MME records', size=13.5, weight='bold')
for xy, yr, xl, lab, xn, n in [(700, '2018', 633, '(g)', 703, 215), (910, '2019', 848, '(h)', 914, 112)]:
    txt(xy, 1366, yr, size=16, weight='bold')
    txt(xl, 1393, lab, size=14.5, weight='bold')
    txt(xn, 1393, r'($\mathit{n}$ = %d)' % n, size=15)

fig.savefig('out.png', dpi=100)
